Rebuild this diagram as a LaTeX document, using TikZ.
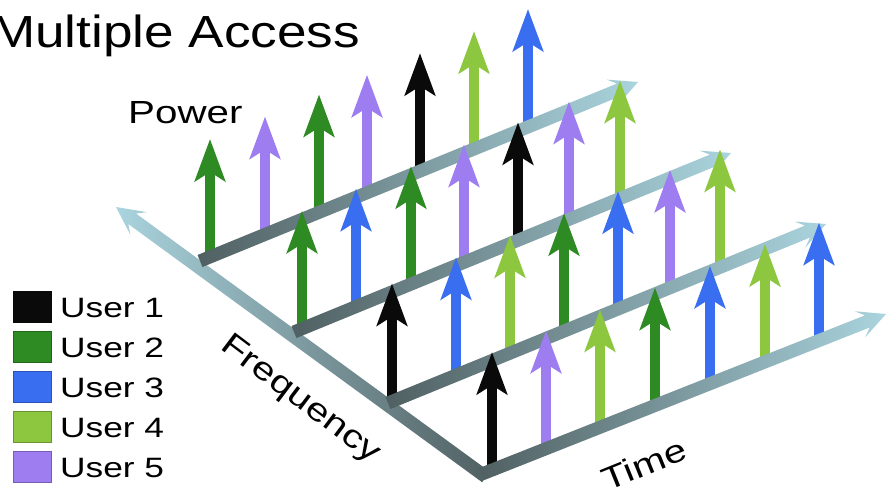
\documentclass[tikz,border=0pt]{standalone}
\usepackage{fontspec}
\setmainfont{Liberation Sans}
\usetikzlibrary{arrows.meta,calc}

% user colours
\definecolor{uK}{RGB}{10,10,10}
\definecolor{uG}{RGB}{46,138,34}
\definecolor{uB}{RGB}{58,110,240}
\definecolor{uL}{RGB}{141,198,63}
\definecolor{uP}{RGB}{157,125,240}
% axis bar gradient
\definecolor{barDark}{RGB}{80,96,98}
\definecolor{barLight}{RGB}{170,212,222}

\newcommand\stretchtext[2]{\scalebox{#1}[1]{#2}}

% a thick shaded axis bar from coordinate #1 to #2 with an arrow head at #2
\newcommand\drawaxisbar[4]{%
  \coordinate (nk) at ($(#2)!20pt!(#1)$);
  \coordinate (hb) at ($(#2)!28pt!(#1)$);
  \shade[left color=#3, right color=#4]
    ($(#1)!6.5pt!90:(#2)$) -- ($(nk)!6.5pt!90:(#2)$) -- ($(hb)!14pt!90:(#2)$) -- (#2)
    -- ($(hb)!14pt!-90:(#2)$) -- ($(nk)!6.5pt!-90:(#2)$) -- ($(#1)!6.5pt!-90:(#2)$) -- cycle;
}

% power arrows standing on the time line from (#1,#2) to (#3,#4)
\newcommand\rowarrows[5]{%
  \foreach \ax/\ac in {#5} {
    \pgfmathsetmacro\yb{#2+(\ax-#1)/(#3-#1)*(#4-#2)}
    \draw[userarrow, color=\ac] (\ax,\yb) -- (\ax,\yb-118);
  }
}

\tikzset{
  userarrow/.style={line width=10pt, -{Stealth[length=42pt,width=30pt,inset=9pt]}},
  legendbox/.style={minimum width=38pt, minimum height=31pt, inner sep=0pt,
    draw=#1!75!black, line width=1pt, fill=#1},
  axistext/.style={inner sep=0pt, font=\fontsize{32}{36}\selectfont},
  legendtext/.style={inner sep=0pt, anchor=base west, font=\fontsize{28}{32}\selectfont},
}

\begin{document}
\begin{tikzpicture}[x=1pt, y=-1pt]
  \useasboundingbox (0,0) rectangle (887,488);
  \fill[white] (0,0) rectangle (887,488);

  % title
  \node[anchor=base west, inner sep=0pt, font=\fontsize{45}{50}\selectfont]
    (title) at (-9,47) {\stretchtext{1.18}{Multiple Access}};

  % frequency axis
  \coordinate (f0) at (486,477);
  \coordinate (f1) at (116,207);
  \drawaxisbar{f0}{f1}{barLight}{barDark}

  % time lines, back to front
  \coordinate (s3) at (200,261); \coordinate (e3) at (638,82);
  \coordinate (s2) at (294,332); \coordinate (e2) at (731,153);
  \coordinate (s1) at (388,403); \coordinate (e1) at (826,224);
  \coordinate (s0) at (482,474); \coordinate (e0) at (886,314);

  \rowarrows{200}{261}{638}{82}{210/uG,265/uP,319/uG,367/uP,420/uK,474/uL,528/uB}
  \drawaxisbar{s3}{e3}{barDark}{barLight}

  \rowarrows{294}{332}{731}{153}{302/uG,356/uB,411/uG,464/uP,518/uK,569/uP,620/uL}
  \drawaxisbar{s2}{e2}{barDark}{barLight}

  \rowarrows{388}{403}{826}{224}{392/uK,456/uB,510/uL,564/uG,618/uB,670/uP,720/uL}
  \drawaxisbar{s1}{e1}{barDark}{barLight}

  \rowarrows{482}{474}{886}{314}{492/uK,546/uP,600/uL,655/uG,710/uB,765/uL,819/uB}
  \drawaxisbar{s0}{e0}{barDark}{barLight}

  % axis labels
  \node[axistext, anchor=base west] (power) at (128,123) {\stretchtext{1.26}{Power}};
  \node[axistext, rotate=-37] (freq) at (300,400) {\stretchtext{1.26}{Frequency}};
  \node[axistext, rotate=22] (time) at (644,464) {\stretchtext{1.26}{Time}};

  % legend
  \node[legendbox=uK] (k1) at (32.5,307) {};
  \node[legendbox=uG] (k2) at (32.5,347) {};
  \node[legendbox=uB] (k3) at (32.5,387) {};
  \node[legendbox=uL] (k4) at (32.5,427) {};
  \node[legendbox=uP] (k5) at (32.5,467) {};
  \node[legendtext] (t1) at (60,317) {\stretchtext{1.26}{User 1}};
  \node[legendtext] (t2) at (60,357) {\stretchtext{1.26}{User 2}};
  \node[legendtext] (t3) at (60,397) {\stretchtext{1.26}{User 3}};
  \node[legendtext] (t4) at (60,437) {\stretchtext{1.26}{User 4}};
  \node[legendtext] (t5) at (60,477) {\stretchtext{1.26}{User 5}};
\end{tikzpicture}
\end{document}
